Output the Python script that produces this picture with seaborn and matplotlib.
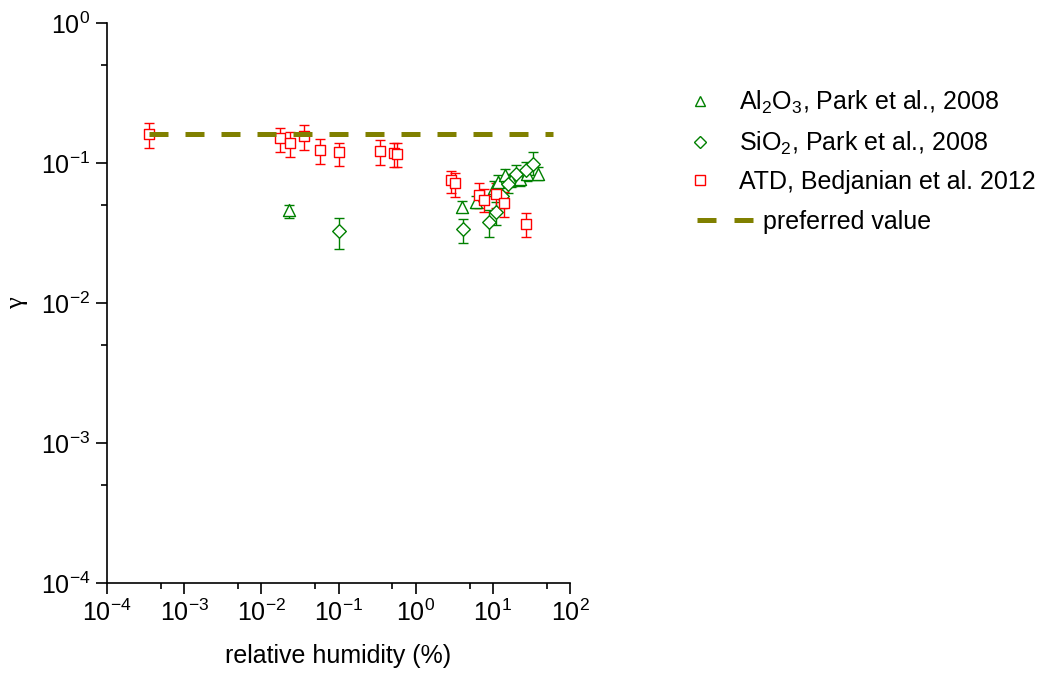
import numpy as np
import pandas as pd
import matplotlib
matplotlib.use("Agg")
import matplotlib.pyplot as plt
import seaborn as sns
from matplotlib.lines import Line2D
from matplotlib.ticker import LogLocator

# Al2O3, Park et al. 2008
al_rh = [0.023, 4.0, 6.1, 10.2, 11.7, 14.3, 17.0, 22.4, 28.0, 38.6]
al_gamma = [0.046, 0.0485, 0.0526, 0.066, 0.073, 0.0817, 0.075, 0.077, 0.083, 0.084]
al_lo = [0.0405, 0.046, 0.048, 0.058, 0.064, 0.072, 0.067, 0.068, 0.074, 0.075]
al_hi = [0.050, 0.0532, 0.058, 0.074, 0.082, 0.091, 0.084, 0.086, 0.093, 0.094]

# SiO2, Park et al. 2008
si_rh = [0.1, 4.1, 9.0, 11.1, 13.0, 15.8, 20.2, 27.2, 33.0]
si_gamma = [0.0325, 0.034, 0.038, 0.0447, 0.058, 0.071, 0.084, 0.0887, 0.098]
si_lo = [0.0242, 0.0266, 0.0296, 0.036, 0.048, 0.061, 0.073, 0.077, 0.082]
si_hi = [0.0405, 0.040, 0.046, 0.053, 0.068, 0.082, 0.097, 0.102, 0.119]

# ATD, Bedjanian et al. 2012
atd_rh = [3.5e-4, 0.0176, 0.0232, 0.0352, 0.0568, 0.103, 0.347, 0.516, 0.57,
          2.86, 3.28, 6.65, 7.7, 11.0, 14.0, 26.7]
atd_gamma = [0.16, 0.151, 0.14, 0.156, 0.124, 0.119, 0.121, 0.118, 0.116,
             0.075, 0.072, 0.0588, 0.054, 0.060, 0.052, 0.0369]
atd_lo = [0.127, 0.12, 0.110, 0.124, 0.099, 0.095, 0.096, 0.094, 0.093,
          0.0615, 0.057, 0.048, 0.0444, 0.048, 0.041, 0.0296]
atd_hi = [0.194, 0.179, 0.166, 0.186, 0.148, 0.14, 0.145, 0.14, 0.14,
          0.088, 0.0853, 0.072, 0.065, 0.072, 0.062, 0.044]

# preferred value
pref_rh = [3.5e-4, 60]
pref_gamma = [0.16, 0.16]

GREEN = "#008000"
RED = "#ff0000"
OLIVE = "#808000"

sns.set_style("ticks")
plt.rcParams["font.family"] = ["Liberation Sans", "DejaVu Sans"]
plt.rcParams["mathtext.fontset"] = "custom"
plt.rcParams["mathtext.rm"] = "Liberation Sans"
plt.rcParams["mathtext.it"] = "Liberation Sans:italic"
plt.rcParams["axes.unicode_minus"] = False
plt.rcParams["text.color"] = "black"
plt.rcParams["axes.labelcolor"] = "black"
plt.rcParams["xtick.color"] = "black"
plt.rcParams["ytick.color"] = "black"
plt.rcParams["font.size"] = 18

fig = plt.figure(figsize=(10.56, 6.75), dpi=100)
ax = fig.add_axes([0.1013, 0.1363, 0.4385, 0.8297])

series = [
    (al_rh, al_gamma, al_lo, al_hi, GREEN, "^", 75),
    (si_rh, si_gamma, si_lo, si_hi, GREEN, "D", 48),
    (atd_rh, atd_gamma, atd_lo, atd_hi, RED, "s", 45),
]

for rh, g, lo, hi, col, mk, sz in series:
    g_arr = np.array(g)
    yerr = [g_arr - np.array(lo), np.array(hi) - g_arr]
    ax.errorbar(rh, g, yerr=yerr, fmt="none", ecolor=col, elinewidth=1.0,
                capsize=3.6, capthick=1.0, zorder=2)
    df = pd.DataFrame({"rh": rh, "gamma": g})
    sns.scatterplot(data=df, x="rh", y="gamma", marker=mk, s=sz,
                    facecolor="white", edgecolor=col, linewidth=1.0,
                    ax=ax, zorder=3, legend=False)

sns.lineplot(x=pref_rh, y=pref_gamma, ax=ax, color=OLIVE, linewidth=3.6,
             zorder=4, legend=False)
ax.lines[-1].set_dashes((3.8, 3.4))

ax.set_xscale("log")
ax.set_yscale("log")
ax.set_xlim(1e-4, 1e2)
ax.set_ylim(1e-4, 1e0)
ax.xaxis.set_major_locator(LogLocator(base=10, numticks=10))
ax.yaxis.set_major_locator(LogLocator(base=10, numticks=10))
ax.xaxis.set_minor_locator(LogLocator(base=10, subs=[5], numticks=10))
ax.yaxis.set_minor_locator(LogLocator(base=10, subs=[5], numticks=10))
ax.yaxis.set_minor_formatter(plt.NullFormatter())
ax.xaxis.set_minor_formatter(plt.NullFormatter())

ax.tick_params(which="major", direction="out", length=8, width=1.2,
               labelsize=18, color="black", pad=4)
ax.tick_params(which="minor", direction="out", length=4, width=1.2, color="black")
for side in ["left", "bottom"]:
    ax.spines[side].set_linewidth(1.2)
    ax.spines[side].set_color("black")
sns.despine(ax=ax)

ax.set_xlabel("relative humidity (%)", fontsize=18, labelpad=13)
ax.set_ylabel("γ", fontsize=19, family=["Liberation Serif", "DejaVu Serif"])
ax.yaxis.set_label_coords(-0.17, 0.5)

marker_handles = [
    Line2D([], [], linestyle="none", marker="^", markersize=7.5, markerfacecolor="white",
           markeredgecolor=GREEN, markeredgewidth=1.0),
    Line2D([], [], linestyle="none", marker="D", markersize=6, markerfacecolor="white",
           markeredgecolor=GREEN, markeredgewidth=1.0),
    Line2D([], [], linestyle="none", marker="s", markersize=6.5, markerfacecolor="white",
           markeredgecolor=RED, markeredgewidth=1.0),
]
marker_labels = ["Al$_2$O$_3$, Park et al., 2008",
                 "SiO$_2$, Park et al., 2008",
                 "ATD, Bedjanian et al. 2012"]
leg1 = fig.legend(marker_handles, marker_labels, loc="upper left",
                  bbox_to_anchor=(0.651, 0.868), frameon=False, fontsize=18,
                  handlelength=1.0, handletextpad=1.05, labelspacing=0.52,
                  borderpad=0, borderaxespad=0)
line_handle = [Line2D([], [], color=OLIVE, linewidth=3.6, dashes=(3.8, 3.6))]
leg2 = fig.legend(line_handle, ["preferred value"], loc="upper left",
                  bbox_to_anchor=(0.660, 0.689), frameon=False, fontsize=18,
                  handlelength=2.25, handletextpad=0.4, borderpad=0, borderaxespad=0)

fig.savefig("out.png", dpi=100)
